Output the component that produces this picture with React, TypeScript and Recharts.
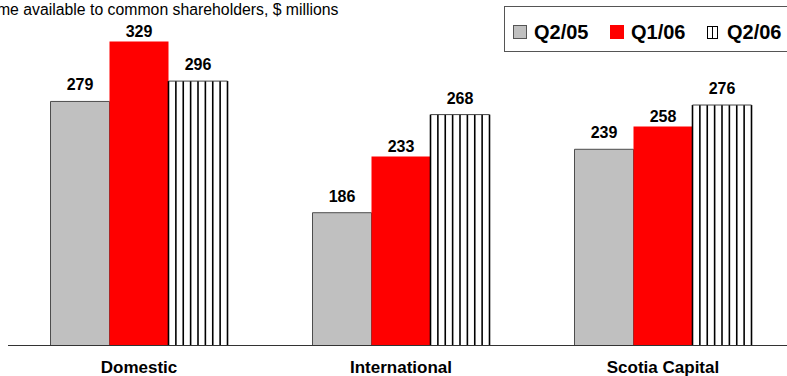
import React from "react";
import { BarChart, Bar, XAxis, YAxis, LabelList } from "recharts";

const segments = ["Domestic", "International", "Scotia Capital"];
const seriesNames = ["Q2/05", "Q1/06", "Q2/06"];
const q205 = [279, 186, 239];
const q106 = [329, 233, 258];
const q206 = [296, 268, 276];

const data = segments.map((name, i) => ({
  name,
  q205: q205[i],
  q106: q106[i],
  q206: q206[i],
}));

const FONT = "'Liberation Sans', Arial, Helvetica, sans-serif";

// white bar with black vertical hatching
function StripedBar(props: any) {
  const { x, y, width, height } = props;
  if (!height || height <= 0) return null;
  const n = 8;
  const lines = [];
  for (let i = 0; i <= n; i++) {
    const lx = x + (width * i) / n;
    lines.push(
      <line key={i} x1={lx} x2={lx} y1={y} y2={y + height} stroke="#000" strokeWidth={1.6} />
    );
  }
  return (
    <g>
      <rect x={x} y={y} width={width} height={height} fill="#fff" />
      {lines}
      <line x1={x} x2={x + width} y1={y} y2={y} stroke="#444" strokeWidth={1} />
    </g>
  );
}

function CategoryTick(props: any) {
  const { x, y, payload } = props;
  return (
    <text
      x={x}
      y={y}
      dy={27.5}
      textAnchor="middle"
      fontFamily={FONT}
      fontWeight="bold"
      fontSize={17}
      fill="#000"
    >
      {payload.value}
    </text>
  );
}

const labelStyle = {
  fontFamily: FONT,
  fontWeight: "bold" as const,
  fontSize: 16,
  fill: "#000",
};

function LegendIcon({ idx }: { idx: number }) {
  if (idx === 0)
    return (
      <span
        style={{
          display: "inline-block",
          width: 12,
          height: 12,
          background: "#c0c0c0",
          border: "1px solid #555",
        }}
      />
    );
  if (idx === 1)
    return <span style={{ display: "inline-block", width: 14, height: 14, background: "#ff0000" }} />;
  return (
    <span
      style={{
        display: "inline-block",
        width: 9,
        height: 11,
        background: "#fff",
        border: "1px solid #000",
        backgroundImage: "linear-gradient(to right, transparent 4px, #000 4px, #000 5px, transparent 5px)",
      }}
    />
  );
}

export default function App() {
  return (
    <div
      style={{
        position: "absolute",
        left: 0,
        top: 0,
        width: 787,
        height: 376,
        overflow: "hidden",
        background: "#fff",
      }}
    >
      <div
        style={{
          position: "absolute",
          left: -61,
          top: 0,
          fontFamily: FONT,
          fontSize: 15.8,
          lineHeight: "20px",
          whiteSpace: "nowrap",
          color: "#000",
        }}
      >
        Net income available to common shareholders, $ millions
      </div>
      <div
        style={{
          position: "absolute",
          left: 504,
          top: 6,
          width: 300,
          height: 46,
          border: "1.5px solid #555",
          boxSizing: "border-box",
          fontFamily: FONT,
          fontWeight: "bold",
          fontSize: 20,
        }}
      >
        {seriesNames.map((s, i) => (
          <div
            key={s}
            style={{
              position: "absolute",
              left: 8 + i * 97,
              top: 0,
              height: 46,
              display: "flex",
              alignItems: "center",
              paddingTop: 4,
              boxSizing: "border-box",
              whiteSpace: "nowrap",
            }}
          >
            <LegendIcon idx={i} />
            <span style={{ marginLeft: i === 2 ? 9 : 7 }}>{s}</span>
          </div>
        ))}
      </div>
      <div style={{ position: "absolute", left: 0, top: 0 }}>
        <BarChart
          width={795}
          height={376}
          data={data}
          margin={{ top: 16.5, right: 1, left: 8, bottom: 0 }}
          barCategoryGap={42.5}
          barGap={0}
        >
          <XAxis
            dataKey="name"
            height={30.5}
            tickLine={false}
            tickSize={0}
            tickMargin={0}
            axisLine={{ stroke: "#333", strokeWidth: 1 }}
            tick={<CategoryTick />}
            interval={0}
          />
          <YAxis hide domain={[75, 350]} />
          <Bar dataKey="q205" name={seriesNames[0]} fill="#c0c0c0" stroke="#4d4d4d" strokeWidth={1} isAnimationActive={false}>
            <LabelList dataKey="q205" position="top" offset={11} style={labelStyle} />
          </Bar>
          <Bar dataKey="q106" name={seriesNames[1]} fill="#ff0000" isAnimationActive={false}>
            <LabelList dataKey="q106" position="top" offset={4.5} style={labelStyle} />
          </Bar>
          <Bar dataKey="q206" name={seriesNames[2]} shape={<StripedBar />} isAnimationActive={false}>
            <LabelList dataKey="q206" position="top" offset={11} style={labelStyle} />
          </Bar>
        </BarChart>
      </div>
    </div>
  );
}
